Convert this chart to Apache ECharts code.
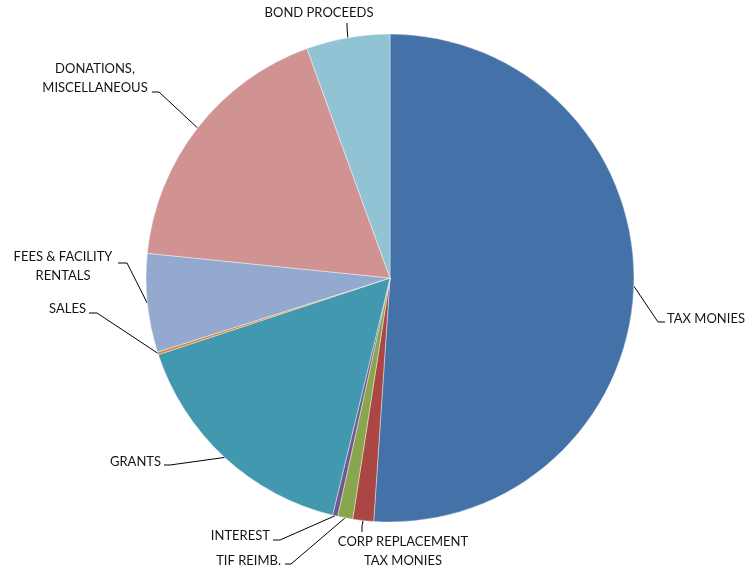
<!DOCTYPE html>
<html>
<head>
<meta charset="utf-8">
<script src="https://cdn.jsdelivr.net/npm/echarts@6/dist/echarts.min.js"></script>
<style>
  html, body { margin: 0; padding: 0; background: #fff; }
  #chart { width: 746px; height: 571px; }
</style>
</head>
<body>
<div id="chart"></div>
<script>
// Revenue sources, share of total (%), clockwise from 12 o'clock
const categories = [
  'TAX MONIES',
  'CORP REPLACEMENT\nTAX MONIES',
  'TIF REIMB.',
  'INTEREST',
  'GRANTS',
  'SALES',
  'FEES & FACILITY\nRENTALS',
  'DONATIONS,\nMISCELLANEOUS',
  'BOND PROCEEDS'
];
const shares = [51.07, 1.38, 1.0, 0.34, 16.13, 0.18, 6.52, 17.86, 5.53];
const colors = ['#4472A8', '#AA4643', '#89A54E', '#71588F', '#4198AF',
                '#DB843D', '#93A9CF', '#D19392', '#92C3D4'];

// Pie geometry (px)
const CX = 390, CY = 278, R = 244;

// Label placement: text anchor, alignment and the leader's bend/end points
const labelPlacement = [
  { x: 667, y: 319, align: 'left',   va: 'middle', bend: [658, 322], end: [665, 322] },
  { x: 403, y: 532, align: 'center', va: 'top',    bend: [362, 526], end: [362, 532] },
  { x: 281, y: 561, align: 'right',  va: 'middle', bend: [291, 564], end: [285, 564] },
  { x: 270, y: 536, align: 'right',  va: 'middle', bend: [280, 540], end: [273, 540] },
  { x: 161, y: 462, align: 'right',  va: 'middle', bend: [170, 465], end: [164, 465] },
  { x: 86,  y: 309, align: 'right',  va: 'middle', bend: [97, 313],  end: [89, 313] },
  { x: 63,  y: 266, align: 'center', va: 'middle', bend: [127, 263], end: [118, 263] },
  { x: 95,  y: 78,  align: 'center', va: 'middle', bend: [159, 92],  end: [152, 92] },
  { x: 319, y: 13,  align: 'center', va: 'middle', bend: [347, 27],  end: [347, 23] }
];

// Outer-arc midpoint of each slice, where its leader line starts
const total = shares.reduce((a, b) => a + b, 0);
const arcMid = [];
let acc = 0;
shares.forEach(v => {
  const a = (acc + v / 2) / total * 2 * Math.PI;
  arcMid.push([CX + R * Math.sin(a), CY - R * Math.cos(a)]);
  acc += v;
});

const chart = echarts.init(document.getElementById('chart'), null, { renderer: 'canvas' });
chart.setOption({
  animation: false,
  backgroundColor: '#ffffff',
  series: [{
    type: 'pie',
    center: [CX, CY],
    radius: [0, R],
    startAngle: 90,
    clockwise: true,
    avoidLabelOverlap: false,
    itemStyle: { borderColor: '#ffffff', borderWidth: 0.4 },
    label: {
      show: true,
      position: 'outside',
      formatter: '{b}',
      color: '#141414',
      fontFamily: 'Lato',
      fontSize: 13,
      lineHeight: 19
    },
    labelLine: {
      show: true,
      smooth: false,
      lineStyle: { color: '#000000', width: 1 }
    },
    labelLayout: function (params) {
      const p = labelPlacement[params.dataIndex];
      return {
        x: p.x,
        y: p.y,
        align: p.align,
        verticalAlign: p.va,
        labelLinePoints: [arcMid[params.dataIndex], p.bend, p.end]
      };
    },
    emphasis: { disabled: true },
    data: categories.map((name, i) => ({
      name: name,
      value: shares[i],
      itemStyle: { color: colors[i] }
    }))
  }]
});
</script>
</body>
</html>
